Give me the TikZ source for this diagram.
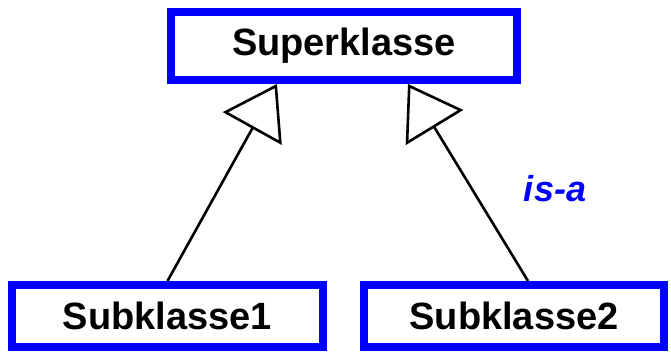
\documentclass[tikz,border=0pt]{standalone}
\usepackage{fontspec}
\setmainfont{Liberation Sans}
\usepackage{tikz}
\usetikzlibrary{arrows.meta,positioning}

\begin{document}
\begin{tikzpicture}[x=1pt, y=-1pt,
  klasse/.style={draw=blue, line width=8pt, fill=white, minimum height=62pt, inner sep=0pt, align=center, font=\fontsize{38}{44}\selectfont\bfseries},
  isa/.style={-{Triangle[open, length=51pt, width=67pt]}, line width=2.6pt},
  rolle/.style={text=blue, font=\fontsize{36}{42}\selectfont\bfseries\itshape}
]
\useasboundingbox (0,0) rectangle (671,352);

\node[klasse, minimum width=346pt, minimum height=68pt] (super) at (344,46) {Superklasse};
\node[klasse, minimum width=311pt] (sub1) at (167.5,316) {Subklasse1};
\node[klasse, minimum width=300pt] (sub2) at (514,316) {Subklasse2};
\node[rolle] (rolle) at (555,189) {is-a};

\draw[isa] (sub1.north) -- ([xshift=-67pt]super.south);
\draw[isa] ([xshift=14pt]sub2.north) -- ([xshift=64pt]super.south);
\end{tikzpicture}
\end{document}
